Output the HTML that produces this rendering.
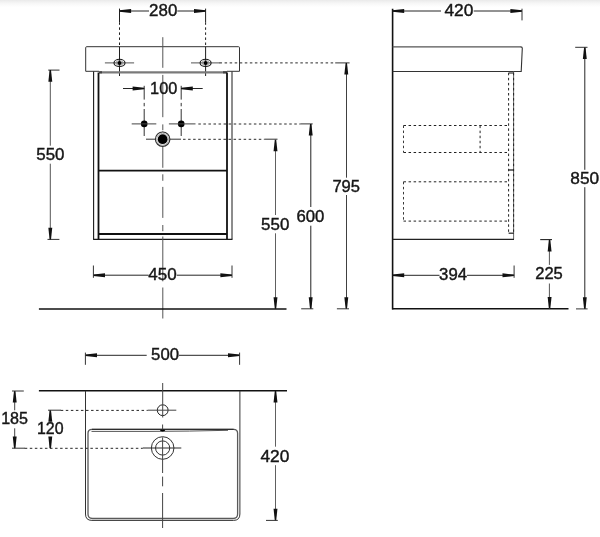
<!DOCTYPE html>
<html><head><meta charset="utf-8"><style>
html,body{margin:0;padding:0;background:#fff;}
svg{display:block;}
text{font-family:"Liberation Sans",sans-serif;fill:#161616;stroke:#161616;stroke-width:0.4px;}
</style></head><body>
<svg style="will-change:transform" width="600" height="537" viewBox="0 0 600 537">
<defs><linearGradient id="tg" x1="0" y1="0" x2="0" y2="1"><stop offset="0" stop-color="#eaeaea"/><stop offset="0.45" stop-color="#f6f6f6"/><stop offset="1" stop-color="#fff"/></linearGradient></defs>
<rect width="600" height="537" fill="#fff"/>
<rect width="600" height="7" fill="url(#tg)"/>
<line x1="119.5" y1="11.0" x2="149" y2="11.0" stroke="#262626" stroke-width="1.0" stroke-linecap="butt"/>
<line x1="177.3" y1="11.0" x2="205.6" y2="11.0" stroke="#262626" stroke-width="1.0" stroke-linecap="butt"/>
<polygon points="119.50,10.30 131.10,9.05 131.10,12.95 119.50,11.70" fill="#111"/>
<polygon points="205.60,10.30 194.00,9.05 194.00,12.95 205.60,11.70" fill="#111"/>
<text x="149.10" y="16.3" font-size="16" textLength="28.20" lengthAdjust="spacingAndGlyphs">280</text>
<line x1="119.5" y1="8.6" x2="119.5" y2="22.3" stroke="#1e1e1e" stroke-width="1.0" stroke-linecap="butt"/>
<line x1="119.5" y1="22.3" x2="119.5" y2="46.7" stroke="#1e1e1e" stroke-width="1.0" stroke-dasharray="2.5 2.55" stroke-linecap="butt"/>
<line x1="119.5" y1="46.7" x2="119.5" y2="76" stroke="#1e1e1e" stroke-width="1.0" stroke-linecap="butt"/>
<line x1="205.6" y1="8.6" x2="205.6" y2="22.3" stroke="#1e1e1e" stroke-width="1.0" stroke-linecap="butt"/>
<line x1="205.6" y1="22.3" x2="205.6" y2="46.7" stroke="#1e1e1e" stroke-width="1.0" stroke-dasharray="2.5 2.55" stroke-linecap="butt"/>
<line x1="205.6" y1="46.7" x2="205.6" y2="76" stroke="#1e1e1e" stroke-width="1.0" stroke-linecap="butt"/>
<path d="M99,71.3 H85.7 V47.7 Q85.7,46.7 86.7,46.7 L238.5,46.7 Q239.5,46.7 239.5,47.7 L239.5,71.3 H227" stroke="#333" stroke-width="1.0" fill="none"/>
<line x1="99" y1="72.3" x2="227" y2="72.3" stroke="#7a7a7a" stroke-width="2.2" stroke-linecap="butt"/>
<line x1="99.2" y1="72.3" x2="102" y2="72.3" stroke="#444" stroke-width="2.2" stroke-linecap="butt"/>
<line x1="223" y1="72.3" x2="227" y2="72.3" stroke="#444" stroke-width="2.2" stroke-linecap="butt"/>
<line x1="104.9" y1="62.9" x2="134.1" y2="62.9" stroke="#555" stroke-width="1.0" stroke-linecap="butt"/>
<ellipse cx="119.5" cy="62.9" rx="5.5" ry="3.6" stroke="#1a1a1a" stroke-width="1.1" fill="none"/>
<ellipse cx="119.5" cy="62.9" rx="3.6" ry="2.3" stroke="#777" stroke-width="0.7" fill="none"/>
<circle cx="119.5" cy="62.9" r="2.0" stroke="none" stroke-width="0" fill="#000"/>
<line x1="191.0" y1="62.9" x2="220.2" y2="62.9" stroke="#555" stroke-width="1.0" stroke-linecap="butt"/>
<ellipse cx="205.6" cy="62.9" rx="5.5" ry="3.6" stroke="#1a1a1a" stroke-width="1.1" fill="none"/>
<ellipse cx="205.6" cy="62.9" rx="3.6" ry="2.3" stroke="#777" stroke-width="0.7" fill="none"/>
<circle cx="205.6" cy="62.9" r="2.0" stroke="none" stroke-width="0" fill="#000"/>
<line x1="219.55" y1="62.9" x2="335.2" y2="62.9" stroke="#2a2a2a" stroke-width="1.0" stroke-dasharray="2.5 2.55" stroke-linecap="butt"/>
<line x1="335.2" y1="62.9" x2="349.6" y2="62.9" stroke="#333" stroke-width="1.0" stroke-linecap="butt"/>
<line x1="93.6" y1="71.6" x2="93.6" y2="239.2" stroke="#1a1a1a" stroke-width="1.1" stroke-linecap="butt"/>
<line x1="98.5" y1="72.5" x2="98.5" y2="239.2" stroke="#111" stroke-width="1.8" stroke-linecap="butt"/>
<line x1="227" y1="72.5" x2="227" y2="239.2" stroke="#111" stroke-width="1.8" stroke-linecap="butt"/>
<line x1="232.0" y1="71.6" x2="232.0" y2="239.2" stroke="#1a1a1a" stroke-width="1.0" stroke-linecap="butt"/>
<line x1="98.5" y1="170.6" x2="227" y2="170.6" stroke="#111" stroke-width="1.7" stroke-linecap="butt"/>
<line x1="98.5" y1="234.0" x2="227" y2="234.0" stroke="#111" stroke-width="1.8" stroke-linecap="butt"/>
<line x1="93.1" y1="239.3" x2="232.5" y2="239.3" stroke="#1a1a1a" stroke-width="1.3" stroke-linecap="butt"/>
<line x1="162.8" y1="37.2" x2="162.8" y2="67.8" stroke="#555" stroke-width="1.0" stroke-linecap="butt"/>
<line x1="162.8" y1="74.9" x2="162.8" y2="117.2" stroke="#555" stroke-width="1.0" stroke-linecap="butt"/>
<line x1="162.8" y1="124.4" x2="162.8" y2="130.2" stroke="#555" stroke-width="1.0" stroke-linecap="butt"/>
<line x1="162.8" y1="131.5" x2="162.8" y2="167.8" stroke="#555" stroke-width="1.0" stroke-linecap="butt"/>
<line x1="162.8" y1="174.3" x2="162.8" y2="180.8" stroke="#555" stroke-width="1.0" stroke-linecap="butt"/>
<line x1="162.8" y1="186.9" x2="162.8" y2="217.9" stroke="#555" stroke-width="1.0" stroke-linecap="butt"/>
<line x1="162.8" y1="225" x2="162.8" y2="231.2" stroke="#555" stroke-width="1.0" stroke-linecap="butt"/>
<line x1="162.8" y1="236.5" x2="162.8" y2="281.3" stroke="#555" stroke-width="1.0" stroke-linecap="butt"/>
<line x1="162.8" y1="287.5" x2="162.8" y2="318.5" stroke="#555" stroke-width="1.0" stroke-linecap="butt"/>
<line x1="144.2" y1="85.8" x2="144.2" y2="99.6" stroke="#333" stroke-width="1.0" stroke-linecap="butt"/>
<line x1="144.2" y1="102.9" x2="144.2" y2="106.3" stroke="#333" stroke-width="1.0" stroke-linecap="butt"/>
<line x1="144.2" y1="109" x2="144.2" y2="136" stroke="#333" stroke-width="1.0" stroke-linecap="butt"/>
<line x1="181.2" y1="85.8" x2="181.2" y2="99.6" stroke="#333" stroke-width="1.0" stroke-linecap="butt"/>
<line x1="181.2" y1="102.9" x2="181.2" y2="106.3" stroke="#333" stroke-width="1.0" stroke-linecap="butt"/>
<line x1="181.2" y1="109" x2="181.2" y2="136" stroke="#333" stroke-width="1.0" stroke-linecap="butt"/>
<line x1="123" y1="88.5" x2="144.2" y2="88.5" stroke="#262626" stroke-width="1.0" stroke-linecap="butt"/>
<polygon points="144.20,87.80 132.60,86.55 132.60,90.45 144.20,89.20" fill="#111"/>
<line x1="181.2" y1="88.5" x2="202.7" y2="88.5" stroke="#262626" stroke-width="1.0" stroke-linecap="butt"/>
<polygon points="181.20,87.80 192.80,86.55 192.80,90.45 181.20,89.20" fill="#111"/>
<text x="150.10" y="93.7" font-size="16" textLength="27.20" lengthAdjust="spacingAndGlyphs">100</text>
<circle cx="144.2" cy="123.9" r="3.3" stroke="none" stroke-width="0" fill="#000"/>
<circle cx="181.2" cy="123.9" r="3.3" stroke="none" stroke-width="0" fill="#000"/>
<line x1="131.7" y1="123.9" x2="156.3" y2="123.9" stroke="#444" stroke-width="1.0" stroke-linecap="butt"/>
<line x1="168.9" y1="123.9" x2="195.5" y2="123.9" stroke="#444" stroke-width="1.0" stroke-linecap="butt"/>
<line x1="198.35" y1="124.0" x2="300.4" y2="124.0" stroke="#2a2a2a" stroke-width="1.0" stroke-dasharray="2.5 2.55" stroke-linecap="butt"/>
<line x1="300.4" y1="123.9" x2="312.7" y2="123.9" stroke="#333" stroke-width="1.0" stroke-linecap="butt"/>
<line x1="146" y1="139.2" x2="181" y2="139.2" stroke="#333" stroke-width="1.0" stroke-linecap="butt"/>
<line x1="183.05" y1="139.3" x2="264.6" y2="139.3" stroke="#2a2a2a" stroke-width="1.0" stroke-dasharray="2.5 2.55" stroke-linecap="butt"/>
<line x1="264.6" y1="139.2" x2="277.5" y2="139.2" stroke="#333" stroke-width="1.0" stroke-linecap="butt"/>
<circle cx="162.65" cy="139.2" r="7.2" stroke="#333" stroke-width="1.2" fill="#fff"/>
<circle cx="162.65" cy="139.2" r="5.9" stroke="#999" stroke-width="0.8" fill="none"/>
<circle cx="162.65" cy="139.2" r="4.9" stroke="none" stroke-width="0" fill="#000"/>
<line x1="50.3" y1="70.1" x2="50.3" y2="145.7" stroke="#555" stroke-width="1.0" stroke-linecap="butt"/>
<line x1="50.3" y1="163.7" x2="50.3" y2="239.4" stroke="#555" stroke-width="1.0" stroke-linecap="butt"/>
<line x1="48.2" y1="70.1" x2="59.5" y2="70.1" stroke="#333" stroke-width="1.0" stroke-linecap="butt"/>
<line x1="47.5" y1="239.4" x2="59.4" y2="239.4" stroke="#333" stroke-width="1.0" stroke-linecap="butt"/>
<polygon points="49.60,70.10 48.35,81.70 52.25,81.70 51.00,70.10" fill="#111"/>
<polygon points="49.60,239.40 48.35,227.80 52.25,227.80 51.00,239.40" fill="#111"/>
<text x="36.30" y="159.7" font-size="16" textLength="28.20" lengthAdjust="spacingAndGlyphs">550</text>
<line x1="275.5" y1="139.7" x2="275.5" y2="215" stroke="#606060" stroke-width="1.0" stroke-linecap="butt"/>
<line x1="275.5" y1="233.3" x2="275.5" y2="308.8" stroke="#606060" stroke-width="1.0" stroke-linecap="butt"/>
<polygon points="274.80,139.70 273.55,151.30 277.45,151.30 276.20,139.70" fill="#111"/>
<polygon points="274.80,308.80 273.55,297.20 277.45,297.20 276.20,308.80" fill="#111"/>
<text x="261.10" y="229.8" font-size="16" textLength="28.20" lengthAdjust="spacingAndGlyphs">550</text>
<line x1="310.8" y1="124" x2="310.8" y2="207" stroke="#222" stroke-width="1.0" stroke-linecap="butt"/>
<line x1="310.8" y1="225.7" x2="310.8" y2="308.8" stroke="#222" stroke-width="1.0" stroke-linecap="butt"/>
<polygon points="310.00,124.00 308.75,135.60 312.65,135.60 311.40,124.00" fill="#111"/>
<polygon points="310.00,308.80 308.75,297.20 312.65,297.20 311.40,308.80" fill="#111"/>
<line x1="301.2" y1="308.8" x2="313.3" y2="308.8" stroke="#333" stroke-width="1.0" stroke-linecap="butt"/>
<text x="296.40" y="221.9" font-size="16" textLength="27.90" lengthAdjust="spacingAndGlyphs">600</text>
<line x1="346.5" y1="62.9" x2="346.5" y2="177.7" stroke="#404040" stroke-width="1.0" stroke-linecap="butt"/>
<line x1="346.5" y1="195" x2="346.5" y2="308.8" stroke="#404040" stroke-width="1.0" stroke-linecap="butt"/>
<polygon points="345.60,62.90 344.35,74.50 348.25,74.50 347.00,62.90" fill="#111"/>
<polygon points="345.60,308.80 344.35,297.20 348.25,297.20 347.00,308.80" fill="#111"/>
<line x1="336.9" y1="308.8" x2="349" y2="308.8" stroke="#333" stroke-width="1.0" stroke-linecap="butt"/>
<text x="332.40" y="191.7" font-size="16" textLength="27.60" lengthAdjust="spacingAndGlyphs">795</text>
<line x1="93.4" y1="275.2" x2="148.7" y2="275.2" stroke="#262626" stroke-width="1.0" stroke-linecap="butt"/>
<line x1="176.7" y1="275.2" x2="232" y2="275.2" stroke="#262626" stroke-width="1.0" stroke-linecap="butt"/>
<polygon points="93.40,274.50 105.00,273.25 105.00,277.15 93.40,275.90" fill="#111"/>
<polygon points="232.00,274.50 220.40,273.25 220.40,277.15 232.00,275.90" fill="#111"/>
<line x1="93.4" y1="265.5" x2="93.4" y2="277.8" stroke="#333" stroke-width="1.0" stroke-linecap="butt"/>
<line x1="232" y1="265.5" x2="232" y2="277.8" stroke="#333" stroke-width="1.0" stroke-linecap="butt"/>
<text x="148.30" y="280" font-size="16" textLength="28.40" lengthAdjust="spacingAndGlyphs">450</text>
<line x1="38.9" y1="309.0" x2="286.5" y2="309.0" stroke="#111" stroke-width="1.6" stroke-linecap="butt"/>
<line x1="392.6" y1="8.7" x2="392.6" y2="309.5" stroke="#111" stroke-width="1.6" stroke-linecap="butt"/>
<line x1="392.2" y1="11.0" x2="441" y2="11.0" stroke="#262626" stroke-width="1.0" stroke-linecap="butt"/>
<line x1="473.7" y1="11.0" x2="522" y2="11.0" stroke="#262626" stroke-width="1.0" stroke-linecap="butt"/>
<polygon points="392.60,10.30 404.20,9.05 404.20,12.95 392.60,11.70" fill="#111"/>
<polygon points="522.00,10.30 510.40,9.05 510.40,12.95 522.00,11.70" fill="#111"/>
<line x1="522" y1="8.7" x2="522" y2="20.4" stroke="#333" stroke-width="1.0" stroke-linecap="butt"/>
<text x="444.40" y="16.3" font-size="16" textLength="28.90" lengthAdjust="spacingAndGlyphs">420</text>
<line x1="392.6" y1="46.9" x2="521" y2="46.9" stroke="#555" stroke-width="1.1" stroke-linecap="butt"/>
<path d="M520.8,46.9 Q522.3,46.9 522.3,48.3 L521.2,71.5 L392.6,71.5" stroke="#333" stroke-width="1.1" fill="none"/>
<line x1="508.6" y1="72.8" x2="508.6" y2="233.2" stroke="#222" stroke-width="1.0" stroke-dasharray="2.5 2.55" stroke-linecap="butt"/>
<line x1="513.6" y1="71.5" x2="513.6" y2="239.1" stroke="#666" stroke-width="1.0" stroke-linecap="butt"/>
<line x1="513.6" y1="72.8" x2="513.6" y2="233.2" stroke="#222" stroke-width="1.0" stroke-dasharray="2.5 2.55" stroke-linecap="butt"/>
<line x1="508.6" y1="73.0" x2="513.6" y2="73.0" stroke="#333" stroke-width="1.2" stroke-linecap="butt"/>
<line x1="508.6" y1="170" x2="513.8" y2="170" stroke="#222" stroke-width="1.3" stroke-linecap="butt"/>
<line x1="508.6" y1="233.2" x2="513.8" y2="233.2" stroke="#222" stroke-width="1.2" stroke-linecap="butt"/>
<line x1="403.5" y1="125.5" x2="508.6" y2="125.5" stroke="#222" stroke-width="1.0" stroke-dasharray="2.5 2.55" stroke-linecap="butt"/>
<line x1="403.5" y1="152.5" x2="508.6" y2="152.5" stroke="#222" stroke-width="1.0" stroke-dasharray="2.5 2.55" stroke-linecap="butt"/>
<line x1="403.5" y1="125.5" x2="403.5" y2="152.5" stroke="#3a3a3a" stroke-width="1.0" stroke-dasharray="2.5 2.55" stroke-linecap="butt"/>
<line x1="480.1" y1="125.6" x2="480.1" y2="152.4" stroke="#222" stroke-width="1.0" stroke-dasharray="2.5 2.55" stroke-linecap="butt"/>
<line x1="403.5" y1="181.8" x2="508.6" y2="181.8" stroke="#222" stroke-width="1.0" stroke-dasharray="2.5 2.55" stroke-linecap="butt"/>
<line x1="403.5" y1="221.1" x2="508.6" y2="221.1" stroke="#222" stroke-width="1.0" stroke-dasharray="2.5 2.55" stroke-linecap="butt"/>
<line x1="403.5" y1="181.8" x2="403.5" y2="221.1" stroke="#3a3a3a" stroke-width="1.0" stroke-dasharray="2.5 2.55" stroke-linecap="butt"/>
<line x1="392.6" y1="239.4" x2="514" y2="239.4" stroke="#222" stroke-width="1.3" stroke-linecap="butt"/>
<line x1="392.2" y1="275.3" x2="439.5" y2="275.3" stroke="#262626" stroke-width="1.0" stroke-linecap="butt"/>
<line x1="467" y1="275.3" x2="514.1" y2="275.3" stroke="#262626" stroke-width="1.0" stroke-linecap="butt"/>
<polygon points="392.60,274.60 404.20,273.35 404.20,277.25 392.60,276.00" fill="#111"/>
<polygon points="514.10,274.60 502.50,273.35 502.50,277.25 514.10,276.00" fill="#111"/>
<line x1="514.1" y1="265.5" x2="514.1" y2="277.8" stroke="#333" stroke-width="1.0" stroke-linecap="butt"/>
<text x="439.10" y="280" font-size="16" textLength="27.90" lengthAdjust="spacingAndGlyphs">394</text>
<line x1="392.2" y1="308.8" x2="568.5" y2="308.8" stroke="#111" stroke-width="1.6" stroke-linecap="butt"/>
<line x1="549.4" y1="239.8" x2="549.4" y2="264.9" stroke="#555" stroke-width="1.0" stroke-linecap="butt"/>
<line x1="549.4" y1="283.5" x2="549.4" y2="308.8" stroke="#555" stroke-width="1.0" stroke-linecap="butt"/>
<polygon points="548.90,239.80 547.65,251.40 551.55,251.40 550.30,239.80" fill="#111"/>
<polygon points="548.90,308.60 547.65,297.00 551.55,297.00 550.30,308.60" fill="#111"/>
<line x1="540.2" y1="239.6" x2="552" y2="239.6" stroke="#222" stroke-width="1.1" stroke-linecap="butt"/>
<text x="535.20" y="279.2" font-size="16" textLength="27.60" lengthAdjust="spacingAndGlyphs">225</text>
<line x1="584.8" y1="47.3" x2="584.8" y2="169.8" stroke="#262626" stroke-width="1.0" stroke-linecap="butt"/>
<line x1="584.8" y1="187.2" x2="584.8" y2="308.9" stroke="#262626" stroke-width="1.0" stroke-linecap="butt"/>
<polygon points="584.10,47.30 582.85,58.90 586.75,58.90 585.50,47.30" fill="#111"/>
<polygon points="584.10,308.90 582.85,297.30 586.75,297.30 585.50,308.90" fill="#111"/>
<line x1="575.2" y1="47.3" x2="587.5" y2="47.3" stroke="#333" stroke-width="1.0" stroke-linecap="butt"/>
<line x1="576" y1="308.9" x2="587.6" y2="308.9" stroke="#333" stroke-width="1.0" stroke-linecap="butt"/>
<text x="570.30" y="183.6" font-size="16" textLength="28.80" lengthAdjust="spacingAndGlyphs">850</text>
<line x1="85.4" y1="355.3" x2="146.7" y2="355.3" stroke="#262626" stroke-width="1.0" stroke-linecap="butt"/>
<line x1="179" y1="355.3" x2="239.6" y2="355.3" stroke="#262626" stroke-width="1.0" stroke-linecap="butt"/>
<polygon points="85.40,354.60 97.00,353.35 97.00,357.25 85.40,356.00" fill="#111"/>
<polygon points="239.60,354.60 228.00,353.35 228.00,357.25 239.60,356.00" fill="#111"/>
<line x1="85.4" y1="352.6" x2="85.4" y2="364.8" stroke="#333" stroke-width="1.0" stroke-linecap="butt"/>
<line x1="239.6" y1="352.6" x2="239.6" y2="364.8" stroke="#333" stroke-width="1.0" stroke-linecap="butt"/>
<text x="151.10" y="360" font-size="16" textLength="27.90" lengthAdjust="spacingAndGlyphs">500</text>
<line x1="38.9" y1="390.8" x2="287" y2="390.8" stroke="#111" stroke-width="1.5" stroke-linecap="butt"/>
<path d="M85.5,390.8 V514 Q85.5,520.4 91.9,520.4 H233.5 Q239.9,520.4 239.9,514 V390.8" stroke="#333" stroke-width="1.0" fill="none"/>
<path d="M88.0,514 V433.3 Q88.0,429.3 92.0,429.3 H233.6 Q237.6,429.3 237.6,433.3 V514 Q237.6,518.5 233.1,518.5 H92.5 Q88.0,518.5 88.0,514" stroke="#5a5a5a" stroke-width="1.3" fill="none"/>
<path d="M91.5,431.4 L150,431.4 Q190,431.3 228,430.3" stroke="#555" stroke-width="1.0" fill="none"/>
<ellipse cx="162.6" cy="430.3" rx="2.6" ry="1.1" stroke="none" stroke-width="0" fill="#000"/>
<line x1="92.0" y1="429.3" x2="233.6" y2="429.3" stroke="#222" stroke-width="1.0" stroke-linecap="butt"/>
<line x1="275.5" y1="391" x2="275.5" y2="446.7" stroke="#606060" stroke-width="1.0" stroke-linecap="butt"/>
<line x1="275.5" y1="465.2" x2="275.5" y2="520.4" stroke="#606060" stroke-width="1.0" stroke-linecap="butt"/>
<polygon points="274.80,391.00 273.55,402.60 277.45,402.60 276.20,391.00" fill="#111"/>
<polygon points="274.80,520.40 273.55,508.80 277.45,508.80 276.20,520.40" fill="#111"/>
<line x1="266" y1="520.4" x2="277.8" y2="520.4" stroke="#333" stroke-width="1.0" stroke-linecap="butt"/>
<text x="260.40" y="461.5" font-size="16" textLength="28.90" lengthAdjust="spacingAndGlyphs">420</text>
<circle cx="162.7" cy="410.2" r="5.4" stroke="#222" stroke-width="1.0" fill="none"/>
<line x1="162.7" y1="383" x2="162.7" y2="417.5" stroke="#444" stroke-width="1.0" stroke-linecap="butt"/>
<line x1="147.8" y1="410.2" x2="176.3" y2="410.2" stroke="#444" stroke-width="1.0" stroke-linecap="butt"/>
<circle cx="162.65" cy="448" r="11.3" stroke="#333" stroke-width="1.0" fill="none"/>
<circle cx="162.65" cy="448" r="7.1" stroke="#333" stroke-width="1.0" fill="none"/>
<line x1="142.8" y1="448" x2="181.3" y2="448" stroke="#2a2a2a" stroke-width="1.0" stroke-linecap="butt"/>
<line x1="162.6" y1="424.5" x2="162.6" y2="429.5" stroke="#444" stroke-width="1.0" stroke-linecap="butt"/>
<line x1="162.6" y1="437.3" x2="162.6" y2="473" stroke="#444" stroke-width="1.0" stroke-linecap="butt"/>
<line x1="162.6" y1="476.6" x2="162.6" y2="486.3" stroke="#444" stroke-width="1.0" stroke-linecap="butt"/>
<line x1="162.6" y1="493" x2="162.6" y2="528" stroke="#444" stroke-width="1.0" stroke-linecap="butt"/>
<line x1="14.7" y1="391" x2="14.7" y2="410.3" stroke="#444" stroke-width="1.0" stroke-linecap="butt"/>
<line x1="14.7" y1="428.3" x2="14.7" y2="448.2" stroke="#444" stroke-width="1.0" stroke-linecap="butt"/>
<polygon points="14.00,391.00 12.75,402.60 16.65,402.60 15.40,391.00" fill="#111"/>
<polygon points="14.00,448.20 12.75,436.60 16.65,436.60 15.40,448.20" fill="#111"/>
<line x1="12" y1="391" x2="23.8" y2="391" stroke="#333" stroke-width="1.0" stroke-linecap="butt"/>
<line x1="12" y1="448.2" x2="25" y2="448.2" stroke="#333" stroke-width="1.0" stroke-linecap="butt"/>
<text x="1.15" y="424.3" font-size="16" textLength="26.85" lengthAdjust="spacingAndGlyphs">185</text>
<line x1="50.3" y1="410.2" x2="50.3" y2="420" stroke="#262626" stroke-width="1.0" stroke-linecap="butt"/>
<line x1="50.3" y1="437" x2="50.3" y2="448.2" stroke="#262626" stroke-width="1.0" stroke-linecap="butt"/>
<polygon points="49.60,410.20 48.35,421.80 52.25,421.80 51.00,410.20" fill="#111"/>
<polygon points="49.60,448.20 48.35,436.60 52.25,436.60 51.00,448.20" fill="#111"/>
<line x1="48" y1="410.2" x2="61" y2="410.2" stroke="#333" stroke-width="1.0" stroke-linecap="butt"/>
<text x="37.00" y="433.6" font-size="16" textLength="26.60" lengthAdjust="spacingAndGlyphs">120</text>
<line x1="60.75" y1="410.4" x2="147.8" y2="410.4" stroke="#262626" stroke-width="1.0" stroke-dasharray="2.5 2.55" stroke-linecap="butt"/>
<line x1="24.75" y1="448.3" x2="142.8" y2="448.3" stroke="#262626" stroke-width="1.0" stroke-dasharray="2.5 2.55" stroke-linecap="butt"/>
</svg>
</body></html>
